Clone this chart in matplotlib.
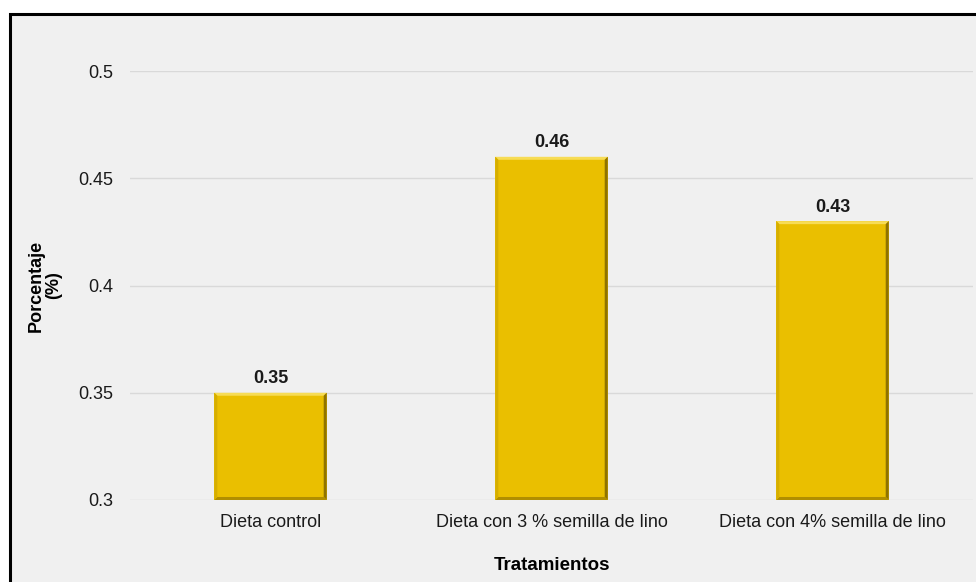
import matplotlib.pyplot as plt
from matplotlib.patches import Rectangle, Polygon

plt.rcParams['font.family'] = ['Liberation Sans', 'DejaVu Sans']

categorias = ["Dieta control", "Dieta con 3 % semilla de lino", "Dieta con 4% semilla de lino"]
porcentajes = [0.35, 0.46, 0.43]
yticks = [0.3, 0.35, 0.4, 0.45, 0.5]
ytick_labels = ["0.3", "0.35", "0.4", "0.45", "0.5"]

fondo = '#f0f0f0'
oro = '#eabf00'

fig = plt.figure(figsize=(9.76, 5.82), dpi=100, facecolor='white')

# framed panel, open at right/bottom edges
marco = Rectangle((9.5 / 976, -0.05), 1.2, (582 - 14) / 582 + 0.05,
                  transform=fig.transFigure, facecolor=fondo,
                  edgecolor='black', linewidth=2.2, zorder=-10)
fig.add_artist(marco)

ax = fig.add_axes([130 / 976, 1 - 500 / 582, 843 / 976, 429 / 582])
ax.set_facecolor(fondo)
ax.set_xlim(-0.5, 2.5)
ax.set_ylim(0.3, 0.5)
ax.set_yticks(yticks)
ax.set_yticklabels(ytick_labels)
ax.yaxis.grid(True, color='#d9d9d9', linewidth=1)
ax.set_axisbelow(True)
for s in ax.spines.values():
    s.set_visible(False)
ax.tick_params(length=0, labelsize=13, colors='#1a1a1a', pad=12)
ax.tick_params(axis='x', pad=10)

x = range(len(categorias))
ancho = 0.4
bars = ax.bar(x, [p - 0.3 for p in porcentajes], bottom=0.3, width=ancho,
              color=oro, zorder=2)
ax.set_xticks(list(x))
ax.set_xticklabels(categorias)

# bevel edges, about 3 px wide
px_x = 3.0 / 281
px_y = 0.05 * 3.0 / 107
for b, v in zip(bars, porcentajes):
    x0, x1 = b.get_x(), b.get_x() + b.get_width()
    y0, y1 = 0.3, v
    caras = [
        ([(x0, y1), (x1, y1), (x1 - px_x, y1 - px_y), (x0 + px_x, y1 - px_y)], '#f7dc55'),
        ([(x1, y1), (x1, y0), (x1 - px_x, y0 + px_y), (x1 - px_x, y1 - px_y)], '#8f7300'),
        ([(x0, y0), (x1, y0), (x1 - px_x, y0 + px_y), (x0 + px_x, y0 + px_y)], '#b08e00'),
        ([(x0, y0), (x0, y1), (x0 + px_x, y1 - px_y), (x0 + px_x, y0 + px_y)], '#d6ae00'),
    ]
    for pts, c in caras:
        ax.add_patch(Polygon(pts, closed=True, facecolor=c, edgecolor='none', zorder=3))
    ax.annotate(f"{v:.2f}", (b.get_x() + b.get_width() / 2, v), xytext=(0, 4),
                textcoords='offset points', ha='center', va='bottom',
                fontsize=13, fontweight='bold', color='#1a1a1a')

ax.set_ylabel("Porcentaje\n(%)", fontsize=13, fontweight='bold', labelpad=12, linespacing=1.0)
ax.set_xlabel("Tratamientos", fontsize=13.5, fontweight='bold', labelpad=19)

fig.savefig('out.png', dpi=100, facecolor=fig.get_facecolor())
